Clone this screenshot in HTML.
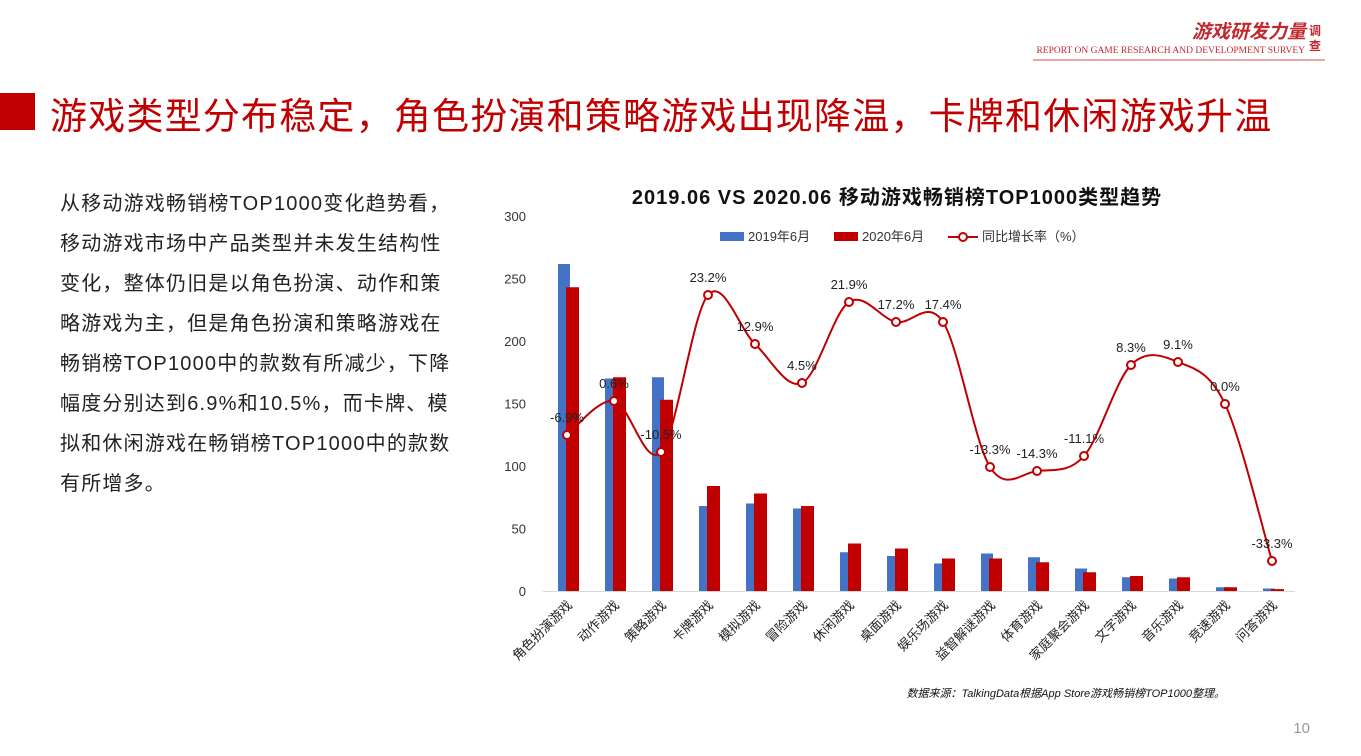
<!DOCTYPE html><html><head><meta charset="utf-8"><style>
body{margin:0;width:1361px;height:756px;background:#fff;overflow:hidden;position:relative;font-family:"Liberation Sans","Noto Sans CJK SC",sans-serif}
.bar{position:absolute;left:0;top:93px;width:35px;height:37px;background:#c00000}
.title{position:absolute;left:50px;top:86px;font-size:37px;color:#c00000;white-space:nowrap;letter-spacing:1.2px}
.para{position:absolute;left:60px;top:184px;width:395px;font-size:20px;line-height:40px;letter-spacing:1.2px;color:#222}
</style></head><body>
<div class="bar"></div>
<div class="title">游戏类型分布稳定，角色扮演和策略游戏出现降温，卡牌和休闲游戏升温</div>
<div class="para">从移动游戏畅销榜TOP1000变化趋势看，移动游戏市场中产品类型并未发生结构性变化，整体仍旧是以角色扮演、动作和策略游戏为主，但是角色扮演和策略游戏在畅销榜TOP1000中的款数有所减少，下降幅度分别达到6.9%和10.5%，而卡牌、模拟和休闲游戏在畅销榜TOP1000中的款数有所增多。</div>
<svg id="s" width="1361" height="756" style="position:absolute;left:0;top:0" font-family="Liberation Sans,Noto Sans CJK SC,sans-serif">
<text x="1306" y="38" font-size="19" font-weight="bold" font-style="italic" fill="#c0282d" text-anchor="end">游戏研发力量</text>
<text x="1309" y="35" font-size="12" font-weight="bold" fill="#c0282d">调</text>
<text x="1309" y="50" font-size="12" font-weight="bold" fill="#c0282d">查</text>
<text x="1305" y="53" font-size="9.5" fill="#c0282d" font-family="Liberation Serif,serif" text-anchor="end">REPORT ON GAME RESEARCH AND DEVELOPMENT SURVEY</text>
<line x1="1033" y1="60" x2="1325" y2="60" stroke="#d05050" stroke-width="1"/>
<text x="897" y="204" font-size="20" font-weight="bold" text-anchor="middle" letter-spacing="1" fill="#111">2019.06 VS 2020.06  移动游戏畅销榜TOP1000类型趋势</text>
<rect x="720" y="232" width="24" height="9" fill="#4472c4"/><text x="748" y="241" font-size="13" fill="#333">2019年6月</text>
<rect x="834" y="232" width="24" height="9" fill="#c00000"/><text x="862" y="241" font-size="13" fill="#333">2020年6月</text>
<line x1="948" y1="237" x2="978" y2="237" stroke="#c00000" stroke-width="2"/><circle cx="963" cy="237" r="4" fill="#fff" stroke="#c00000" stroke-width="2"/>
<text x="982" y="241" font-size="13" fill="#333">同比增长率（%）</text>
<line x1="543" y1="591.5" x2="1295" y2="591.5" stroke="#d9d9d9"/>
<g id="g"></g>
<text x="1225" y="697" font-size="11" font-style="italic" text-anchor="end" fill="#111">数据来源：TalkingData根据App Store游戏畅销榜TOP1000整理。</text>
<text x="1310" y="733" font-size="15" text-anchor="end" fill="#999">10</text>
</svg>
<script>
var g=document.getElementById('g'),h='';
[0,50,100,150,200,250,300].forEach(function(v){h+='<text x="526" y="'+(596-v*1.25)+'" font-size="13" text-anchor="end" fill="#333">'+v+'</text>';});
var cats=['角色扮演游戏','动作游戏','策略游戏','卡牌游戏','模拟游戏','冒险游戏','休闲游戏','桌面游戏','娱乐场游戏','益智解谜游戏','体育游戏','家庭聚会游戏','文字游戏','音乐游戏','竞速游戏','问答游戏'];
var b=[261.6,170,171,68,70,66,31,28,22,30,27,18,11,10,3,2];
var r=[243,171,153,84,78,68,38,34,26,26,23,15,12,11,3,1.5];
var py=[435,401,452,295,344,383,302,322,322,467,471,456,365,362,404,561];
var lb=['-6.9%','0.6%','-10.5%','23.2%','12.9%','4.5%','21.9%','17.2%','17.4%','-13.3%','-14.3%','-11.1%','8.3%','9.1%','0.0%','-33.3%'];
var P=[];
for(var i=0;i<16;i++){var c=567+i*47;
h+='<rect x="'+(c-9)+'" y="'+(591-b[i]*1.25)+'" width="12" height="'+(b[i]*1.25)+'" fill="#4472c4"/>';
h+='<rect x="'+(c-1)+'" y="'+(591-r[i]*1.25)+'" width="13" height="'+(r[i]*1.25)+'" fill="#c00000"/>';
h+='<text transform="translate('+(c+6)+',606) rotate(-45)" font-size="13" text-anchor="end" fill="#222">'+cats[i]+'</text>';
P.push([c,py[i]]);}
var d='M'+P[0];
for(var i=0;i<15;i++){var p0=P[Math.max(i-1,0)],p1=P[i],p2=P[i+1],p3=P[Math.min(i+2,15)];
d+=' C'+(p1[0]+(p2[0]-p0[0])/6)+','+(p1[1]+(p2[1]-p0[1])/6)+' '+(p2[0]-(p3[0]-p1[0])/6)+','+(p2[1]-(p3[1]-p1[1])/6)+' '+p2;}
h+='<path d="'+d+'" fill="none" stroke="#c00000" stroke-width="2"/>';
P.forEach(function(p,i){h+='<circle cx="'+p[0]+'" cy="'+p[1]+'" r="4" fill="#fff" stroke="#c00000" stroke-width="2"/>';
h+='<text x="'+p[0]+'" y="'+(p[1]-13)+'" font-size="13" text-anchor="middle" fill="#222">'+lb[i]+'</text>';});
g.innerHTML=h;
</script>
</body></html>
